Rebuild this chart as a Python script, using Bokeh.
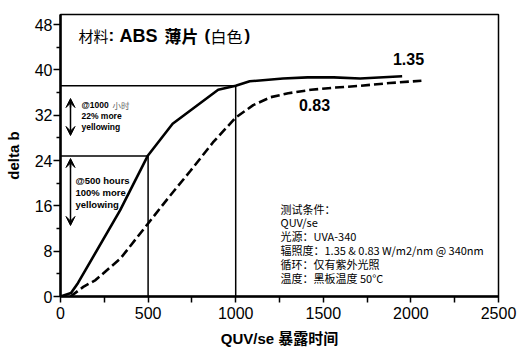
from bokeh.plotting import figure
from bokeh.models import Range1d, FixedTicker, Label, Arrow, VeeHead
from bokeh.embed import file_html
from bokeh.resources import INLINE

# ---- data ----
hours_135 = [0, 60, 100, 340, 497, 640, 900, 1000, 1080, 1270, 1410, 1560, 1710, 1950]
db_135 = [0, 0.6, 2.4, 15.2, 24.8, 30.5, 36.5, 37.2, 38.0, 38.5, 38.7, 38.7, 38.5, 38.9]

hours_083 = [57, 130, 200, 342, 500, 620, 742, 870, 1000, 1100, 1200, 1300, 1430, 1570, 1710, 1880, 2060]
db_083 = [0, 1.7, 2.9, 6.7, 12.9, 17.6, 22.2, 27.2, 31.6, 33.8, 35.2, 35.9, 36.5, 36.9, 37.2, 37.7, 38.1]

ref_hours = [500, 1000]
ref_db = [24.8, 37.2]

x_ticks = [0, 500, 1000, 1500, 2000, 2500]
x_minor = [250, 750, 1250, 1750, 2250]
y_ticks = [0, 8, 16, 24, 32, 40, 48]
y_minor = [4, 12, 20, 28, 36, 44]

conditions = [
    "测试条件：",
    "QUV/se",
    "光源：UVA-340",
    "辐照度：1.35 & 0.83 W/m2/nm @ 340nm",
    "循环：仅有紫外光照",
    "温度：黑板温度 50°C",
]

LAT = "Liberation Sans, Noto Sans CJK SC"
CJK = "Noto Sans CJK SC"

X_MAX = 2500
Y_MAX = 49.8
FL, FR, FT, FB = 60, 498, 14, 296


def px2x(px):
    return (px - FL) * X_MAX / (FR - FL)


def py2y(py):
    return (FB - py) * Y_MAX / (FB - FT)


p = figure(width=518, height=352, output_backend="svg", toolbar_location=None,
           x_range=Range1d(0, X_MAX), y_range=Range1d(0, Y_MAX),
           min_border_left=FL, min_border_right=518 - FR,
           min_border_top=FT, min_border_bottom=352 - FB)
p.grid.visible = False
p.outline_line_color = "black"
p.outline_line_width = 1.5
p.outline_line_alpha = 1.0
p.background_fill_color = "white"
p.border_fill_color = "white"

for ax in (p.xaxis[0], p.yaxis[0]):
    ax.axis_line_width = 2.5
    ax.axis_line_color = "black"
    ax.major_tick_line_width = 1.5
    ax.minor_tick_line_width = 1.5
    ax.major_tick_in = 0
    ax.minor_tick_in = 0
    ax.major_label_text_font = LAT
    ax.major_label_text_font_size = "16px"
    ax.major_label_text_color = "black"
    ax.axis_label_text_font = LAT
    ax.axis_label_text_font_style = "bold"
    ax.axis_label_text_font_size = "15px"
    ax.axis_label_text_color = "black"

p.xaxis.ticker = FixedTicker(ticks=x_ticks, minor_ticks=x_minor)
p.yaxis.ticker = FixedTicker(ticks=y_ticks, minor_ticks=y_minor)
p.xaxis.major_tick_out = 6
p.xaxis.minor_tick_out = 6
p.xaxis.major_label_standoff = 4
p.yaxis.major_tick_out = 7
p.yaxis.minor_tick_out = 4
p.yaxis.major_label_standoff = 1

p.yaxis.axis_label = "delta b"
p.yaxis.axis_label_standoff = 10
p.xaxis.axis_label = "QUV/se 暴露时间"
p.xaxis.axis_label_standoff = 8

# reference lines
p.segment(x0=[0] * len(ref_hours), y0=ref_db, x1=ref_hours, y1=ref_db,
          line_color="black", line_width=1.5)
p.segment(x0=ref_hours, y0=[0] * len(ref_hours), x1=ref_hours, y1=ref_db,
          line_color="black", line_width=1.5)

# curves
p.line(hours_135, db_135, line_color="black", line_width=2.6, line_join="round")
p.line(hours_083, db_083, line_color="black", line_width=2.6, line_dash="9 4")


def lab(px, py, text, size, style="normal", font=LAT, color="black", align="left"):
    p.add_layout(Label(x=px2x(px), y=py2y(py), text=text, text_font=font,
                       text_font_size=size, text_font_style=style, text_color=color,
                       text_baseline="middle", text_align=align))


# title (mixed weights)
lab(78, 35, "材料", "15px", "normal", CJK)
lab(108, 35, ":", "17px", "bold")
lab(119, 35, "ABS", "18px", "bold")
lab(164, 35, "薄片", "17px", "bold", CJK)
lab(204, 35, "(", "17px", "bold")
lab(210, 35, "白色", "16px", "normal", CJK)
lab(244, 35, ")", "17px", "bold")

# series labels
lab(408, 58, "1.35", "16px", "bold", align="center")
lab(314, 104, "0.83", "16px", "bold", align="center")

# annotations
lab(81, 104, "@1000", "8.5px", "bold")
lab(112, 104, "小时", "8.5px", "normal", CJK, color="#666666")
lab(81, 115, "22% more", "8.5px", "bold")
lab(81, 126, "yellowing", "8.5px", "bold")
lab(75, 180, "@500 hours", "9.5px", "bold")
lab(75, 192, "100% more", "9.5px", "bold")
lab(75, 204, "yellowing", "9.5px", "bold")

for (y0, y1) in [(98, 135), (158, 225)]:
    p.add_layout(Arrow(x_start=px2x(70), y_start=py2y(y0 + 9), x_end=px2x(70), y_end=py2y(y0),
                       line_width=1.5, line_color="black",
                       end=VeeHead(size=9, fill_color="black", line_color="black"), start=None))
    p.add_layout(Arrow(x_start=px2x(70), y_start=py2y(y0 + 5), x_end=px2x(70), y_end=py2y(y1),
                       line_width=1.5, line_color="black",
                       end=VeeHead(size=9, fill_color="black", line_color="black"), start=None))

# test conditions block
for i, t in enumerate(conditions):
    lab(280, 208 + i * 13.8, t, "11px", "normal", CJK)

open("out.html", "w").write(file_html(p, INLINE))
